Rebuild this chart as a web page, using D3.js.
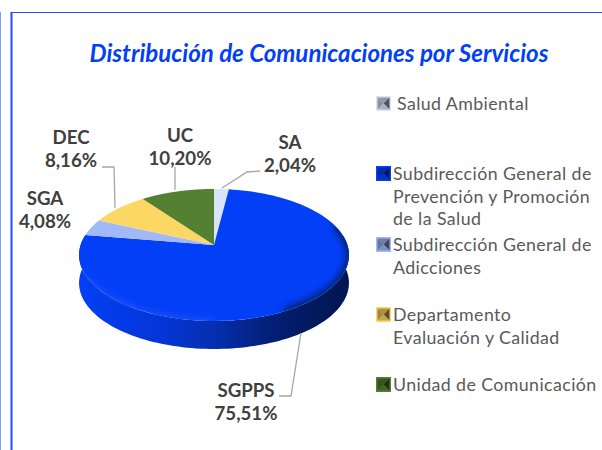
<!DOCTYPE html>
<html>
<head>
<meta charset="utf-8">
<script src="https://cdnjs.cloudflare.com/ajax/libs/d3/7.8.5/d3.min.js"></script>
<style>
  html, body { margin: 0; padding: 0; background: #fff; }
  svg { display: block; }
  text { font-family: Lato, "Open Sans", sans-serif; }
</style>
</head>
<body>
<script>
// chart data
var codes = ["SA", "SGPPS", "SGA", "DEC", "UC"];
var values = [2.04, 75.51, 4.08, 8.16, 10.20];
var pctLabels = ["2,04%", "75,51%", "4,08%", "8,16%", "10,20%"];
var colors = ["#dae3f7", "#033ff6", "#a2b9f8", "#fdd764", "#548032"];
var legendLines = [
    ["Salud Ambiental"],
    ["Subdirección General de", "Prevención y Promoción", "de la Salud"],
    ["Subdirección General de", "Adicciones"],
    ["Departamento", "Evaluación y Calidad"],
    ["Unidad de Comunicación"]
];

var w = 602, h = 450;
var svg = d3.select("body").append("svg").attr("width", w).attr("height", h);
var defs = svg.append("defs");

// frame of the slide behind the chart
svg.append("line").attr("x1", 11).attr("x2", w).attr("y1", 12.5).attr("y2", 12.5).style("stroke", "#1f4ff0").style("stroke-width", 1);
svg.append("line").attr("x1", 11.5).attr("x2", 11.5).attr("y1", 12).attr("y2", h).style("stroke", "#1f4ff0").style("stroke-width", 2);
svg.append("line").attr("x1", 0.5).attr("x2", 0.5).attr("y1", 12).attr("y2", h).style("stroke", "#7f9cf5").style("stroke-width", 1);

svg.append("text")
    .attr("x", 319).attr("y", 62)
    .attr("text-anchor", "middle")
    .style("font-size", "24.1px").style("font-weight", "bold").style("font-style", "italic")
    .style("fill", "#033ff6")
    .text("Distribución de Comunicaciones por Servicios");

// pie in perspective: unit circle projected onto the page
var cx = 214, cy = 245, a = 64.5, b = 133.4, k = 0.151, depth = 28;
function project(t) {
    var u = Math.sin(t), v = -Math.cos(t);
    var q = 1 - k * v;
    return [cx + b * u / q, cy + a * v / q];
}
var line = d3.line();

var slices = d3.pie().sort(null)(values);

function arcPoints(t0, t1) {
    return d3.range(0, 121).map(function(i){
        return project(t0 + (t1 - t0) * i / 120);
    });
}

// side wall, only the near half shows
var sideGrad = defs.append("linearGradient").attr("id", "side")
    .attr("gradientUnits", "userSpaceOnUse")
    .attr("x1", cx - 135).attr("x2", cx + 135).attr("y1", 0).attr("y2", 0);
sideGrad.selectAll("stop")
    .data([[0, "#033ff6"], [0.3, "#0436d8"], [0.5, "#052fb0"], [0.7, "#031f78"], [0.85, "#021a60"], [1, "#011650"]])
    .enter().append("stop")
    .attr("offset", function(d){ return d[0]; })
    .attr("stop-color", function(d){ return d[1]; });

var nearEdge = arcPoints(Math.PI * 0.45, Math.PI * 1.55);
var farEdge = nearEdge.map(function(p){ return [p[0], p[1] + depth]; }).reverse();
svg.append("path")
    .attr("d", line(nearEdge.concat(farEdge)) + "Z")
    .style("fill", "url(#side)");

defs.append("filter").attr("id", "soft").append("feGaussianBlur").attr("stdDeviation", 3);
var outline = arcPoints(0, 2 * Math.PI);
defs.append("clipPath").attr("id", "faceClip").append("path").attr("d", line(outline) + "Z");

// top face slices
svg.selectAll(".slice")
    .data(slices)
    .enter().append("path")
    .attr("class", "slice")
    .attr("d", function(d){
        return line([[cx, cy]].concat(arcPoints(d.startAngle, d.endAngle))) + "Z";
    })
    .style("fill", function(d, i){ return colors[i]; });

// bevel along the rim of the big slice
var rim = svg.append("g").attr("clip-path", "url(#faceClip)");
rim.append("path")
    .attr("d", line(arcPoints(Math.PI * 1.0, Math.PI * 1.35)))
    .style("fill", "none").style("stroke", "#2a5cf8").style("stroke-width", 3)
    .attr("filter", "url(#soft)");
rim.append("path")
    .attr("d", line(arcPoints(Math.PI * 0.4, Math.PI * 0.85)))
    .style("fill", "none").style("stroke", "#03206f").style("stroke-width", 7)
    .attr("filter", "url(#soft)");

// leader lines
var leaders = [
    [[260, 171], [247, 172], [222, 188]],
    [[279, 396], [291, 396], [301, 333]],
    [],
    [[102, 167], [114, 167], [115, 208]],
    [[175, 167], [175, 190]]
];
svg.selectAll(".leader")
    .data(leaders)
    .enter().append("path")
    .attr("class", "leader")
    .attr("d", function(d){ return d.length ? line(d) : null; })
    .style("fill", "none").style("stroke", "#a6a6a6").style("stroke-width", 1.3);

var labelPos = [[290, 149], [246, 397], [45, 205], [71, 144], [180, 142]];
var labels = svg.selectAll(".label")
    .data(codes)
    .enter().append("text")
    .attr("class", "label")
    .attr("text-anchor", "middle")
    .attr("x", function(d, i){ return labelPos[i][0]; })
    .attr("y", function(d, i){ return labelPos[i][1]; })
    .style("font-size", "18.7px").style("font-weight", "bold").style("fill", "#404040");
labels.append("tspan").text(function(d){ return d; });
labels.append("tspan")
    .attr("x", function(d, i){ return labelPos[i][0]; })
    .attr("dy", 23)
    .text(function(d, i){ return pctLabels[i]; });

// legend with pyramid shaped keys
var legendY = [110, 180, 251, 321, 391];
var keySize = 15;
var legend = svg.selectAll(".legend")
    .data(legendLines)
    .enter().append("g")
    .attr("class", "legend")
    .attr("transform", function(d, i){ return "translate(376," + (legendY[i] - 14) + ")"; });

legend.each(function(d, i){
    var g = d3.select(this), s = keySize, c = d3.color(colors[i]), m = s / 2, n = 1.5;
    g.append("rect").attr("width", s).attr("height", s).style("fill", c);
    var faces = [
        [[n, n], [s - n, n], [m, m]],
        [[n, n], [m, m], [n, s - n]],
        [[s - n, n], [m, m], [s - n, s - n]],
        [[n, s - n], [m, m], [s - n, s - n]]
    ];
    var tone = [c.darker(1.1), c.darker(1.3), c.darker(2.8), c.darker(0.7)];
    g.selectAll("polygon").data(faces).enter().append("polygon")
        .attr("points", function(f){ return f.join(" "); })
        .style("fill", function(f, j){ return tone[j]; });
    var t = g.append("text")
        .attr("x", 17).attr("y", 14)
        .style("font-size", "17.8px").style("fill", "#595959").style("letter-spacing", "0.4px");
    d.forEach(function(str, j){
        t.append("tspan").attr("x", i === 0 ? 21 : 17).attr("dy", j ? 22.5 : 0).text(str);
    });
});
</script>
</body>
</html>
